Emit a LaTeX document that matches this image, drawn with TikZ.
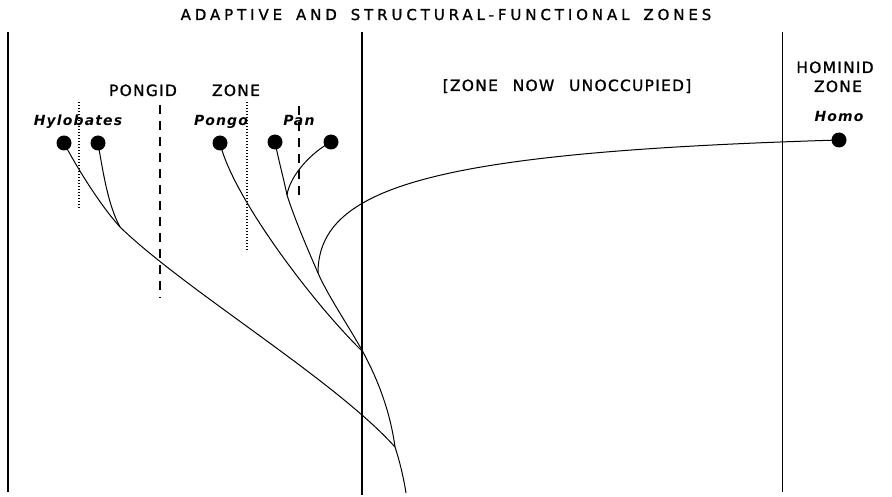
\documentclass[tikz,border=0pt]{standalone}
\usepackage{fontspec}
\setmainfont{DejaVu Sans}
\usepackage{tikz}
\usetikzlibrary{positioning}
\newfontfamily\titlefont[LetterSpace=26, WordSpace=1.6, FakeBold=1.2]{DejaVu Sans}
\newfontfamily\lettering[LetterSpace=8, WordSpace=2.4, FakeBold=1.2]{DejaVu Sans}
\newfontfamily\taxonfont[LetterSpace=8]{DejaVu Sans}

\begin{document}
\begin{tikzpicture}[x=1pt, y=-1pt,
  dot/.style={circle, fill=black, inner sep=0pt, minimum size=15pt},
  branch/.style={line width=1pt},
  zoneline/.style={line width=1.4pt},
  dotline/.style={line width=1.4pt, dash pattern=on 1.2pt off 1.8pt},
  dashline/.style={line width=1.2pt, dash pattern=on 9pt off 7pt},
  heading/.style={font=\titlefont\fontsize{15}{18}\selectfont, anchor=base, inner sep=0pt},
  lbl/.style={font=\lettering\fontsize{15.5}{18}\selectfont, anchor=base, inner sep=0pt},
  taxon/.style={font=\taxonfont\fontsize{14}{16}\selectfont\bfseries\itshape, anchor=base, inner sep=0pt},
]
\useasboundingbox (0,0) rectangle (892,497);

% zone boundaries
\draw[zoneline] (8,32) -- (8,492);
\draw[zoneline] (362,32) -- (362,495);
\draw[zoneline, line width=1pt] (782,32) -- (782,492);

% divisions inside the pongid zone
\draw[dotline] (79,102) -- (79,208);
\draw[dashline] (160,105) -- (160,298);
\draw[dotline] (247,102) -- (247,250);
\draw[dashline] (299,106) -- (299,198);

% headings
\node[heading] (title) at (446,20) {ADAPTIVE AND STRUCTURAL-FUNCTIONAL ZONES};
\node[lbl] (pongid)  at (143,96) {PONGID};
\node[lbl] (pzone)   at (236,96) {ZONE};
\node[lbl] (unocc)   at (567,91) {[ZONE NOW UNOCCUPIED]};
\node[lbl] (hominid) at (835,73) {HOMINID};
\node[lbl] (hzone)   at (838,92) {ZONE};

% genera
\node[taxon] (hylname)   at (78,126)  {Hylobates};
\node[taxon] (pongoname) at (221,126) {Pongo};
\node[taxon] (panname)   at (299,126) {Pan};
\node[taxon] (homoname)  at (839,122) {Homo};

\node[dot] (hyl1)  at (64,143)  {};
\node[dot] (hyl2)  at (98,143)  {};
\node[dot] (pongo) at (220,143) {};
\node[dot] (pan1)  at (275,142) {};
\node[dot] (pan2)  at (331,142) {};
\node[dot] (homo)  at (839,140) {};

% branch points
\coordinate (gibbon)  at (120,227);
\coordinate (panfork) at (287,195);
\coordinate (homfork) at (318,273);
\coordinate (african) at (363,352);
\coordinate (stem)    at (395,447);
\coordinate (root)    at (406,493);

% lineages
\draw[branch] (hyl1.center) .. controls (76,166) and (100,205) .. (gibbon);
\draw[branch] (hyl2.center) .. controls (103,172) and (108,205) .. (gibbon);
\draw[branch] (gibbon) .. controls (185,290) and (335,380) .. (stem);
\draw[branch] (pongo.center) .. controls (232,195) and (310,300) .. (african);
\draw[branch] (pan1.center) .. controls (279,162) and (284,180) .. (panfork);
\draw[branch] (pan2.center) .. controls (312,152) and (290,175) .. (panfork);
\draw[branch] (panfork) .. controls (295,220) and (308,250) .. (homfork);
\draw[branch] (homfork) .. controls (328,296) and (348,325) .. (african);
\draw[branch] (homfork) .. controls (318,185) and (440,152) .. (homo.center);
\draw[branch] (african) .. controls (377,378) and (390,410) .. (stem);
\draw[branch] (stem) .. controls (400,462) and (404,480) .. (root);
\end{tikzpicture}
\end{document}
